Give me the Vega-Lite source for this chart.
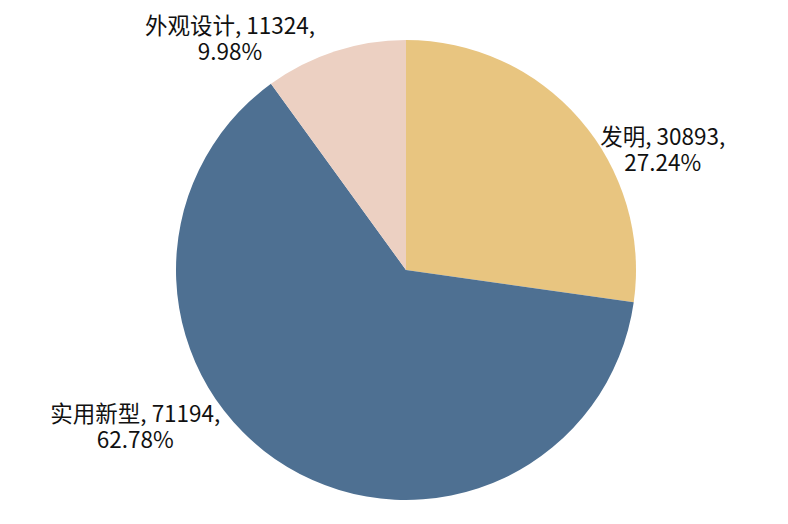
{
  "$schema": "https://vega.github.io/schema/vega-lite/v6.json",
  "width": 764,
  "height": 508,
  "autosize": "none",
  "padding": {"left": 24, "top": 16, "right": 0, "bottom": 0},
  "background": "white",
  "config": {"view": {"stroke": null}},
  "data": {
    "values": [
      {"category": "发明", "value": 30893, "pct": "27.24%", "rank": 1},
      {"category": "实用新型", "value": 71194, "pct": "62.78%", "rank": 2},
      {"category": "外观设计", "value": 11324, "pct": "9.98%", "rank": 3}
    ]
  },
  "encoding": {
    "theta": {"field": "value", "type": "quantitative", "stack": true},
    "order": {"field": "rank", "type": "quantitative"},
    "color": {
      "field": "category",
      "type": "nominal",
      "scale": {"domain": ["发明", "实用新型", "外观设计"], "range": ["#E8C580", "#4E7092", "#ECD0C2"]},
      "legend": null
    }
  },
  "layer": [
    {"mark": {"type": "arc", "outerRadius": 230}},
    {
      "mark": {"type": "text", "radius": 230, "dx": 83, "dy": 19, "fontSize": 22.5, "font": "Noto Sans CJK SC", "color": "#111111", "lineBreak": "\n", "lineHeight": 26, "align": "center", "baseline": "middle"},
      "encoding": {
        "color": {"value": "#111111"},
        "text": {"condition": {"test": "datum.category === '发明'", "field": "label"}, "value": ""}
      },
      "transform": [{"calculate": "datum.category + ', ' + datum.value + ',\\n' + datum.pct", "as": "label"}]
    },
    {
      "mark": {"type": "text", "radius": 230, "dx": -152, "dy": -52, "fontSize": 22.5, "font": "Noto Sans CJK SC", "color": "#111111", "lineBreak": "\n", "lineHeight": 26, "align": "center", "baseline": "middle"},
      "encoding": {
        "color": {"value": "#111111"},
        "text": {"condition": {"test": "datum.category === '实用新型'", "field": "label"}, "value": ""}
      },
      "transform": [{"calculate": "datum.category + ', ' + datum.value + ',\\n' + datum.pct", "as": "label"}]
    },
    {
      "mark": {"type": "text", "radius": 230, "dx": -105, "dy": -24, "fontSize": 22.5, "font": "Noto Sans CJK SC", "color": "#111111", "lineBreak": "\n", "lineHeight": 26, "align": "center", "baseline": "middle"},
      "encoding": {
        "color": {"value": "#111111"},
        "text": {"condition": {"test": "datum.category === '外观设计'", "field": "label"}, "value": ""}
      },
      "transform": [{"calculate": "datum.category + ', ' + datum.value + ',\\n' + datum.pct", "as": "label"}]
    }
  ]
}
